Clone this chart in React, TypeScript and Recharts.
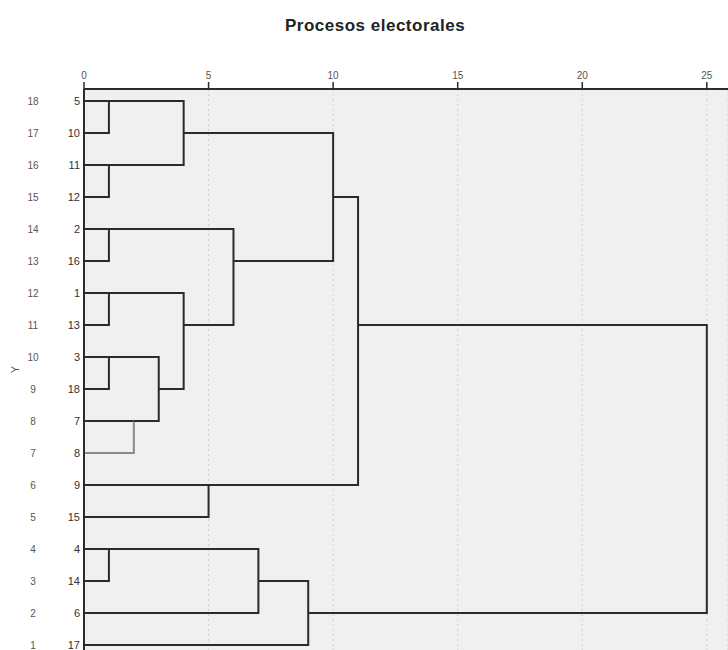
import React from 'react';
import { ComposedChart, Line, XAxis, YAxis, CartesianGrid } from 'recharts';

// Leaf labels for rows 1 (bottom) .. 18 (top)
const leafLabels = ['17', '6', '14', '4', '15', '9', '8', '7', '18', '3', '13', '1', '16', '2', '12', '11', '10', '5'];
const rowTicks = [1, 2, 3, 4, 5, 6, 7, 8, 9, 10, 11, 12, 13, 14, 15, 16, 17, 18];
const xTicks = [0, 5, 10, 15, 20, 25];

// Each merge: upper child (row, height) joined with lower child (row, height) at distance h
const mergeUpperRow = [18, 16, 18, 14, 12, 10, 8, 10, 12, 14, 17, 6, 15, 4, 4, 3, 11];
const mergeUpperH = [0, 0, 1, 0, 0, 0, 0, 1, 1, 1, 4, 0, 10, 0, 1, 7, 11];
const mergeLowerRow = [17, 15, 16, 13, 11, 9, 7, 8, 9, 11, 13, 5, 6, 3, 2, 1, 2];
const mergeLowerH = [0, 0, 1, 0, 0, 0, 0, 2, 3, 4, 6, 0, 5, 0, 0, 0, 9];
const mergeHeight = [1, 1, 4, 1, 1, 1, 2, 3, 4, 6, 10, 5, 11, 1, 7, 9, 25];

const DARK = '#2b2b2b';
const GREY = '#8a8a8a';
const FONT = 'Liberation Sans, Arial, sans-serif';

const RowTick = (props: any) => {
  const { x, y, payload } = props;
  const row = payload.value as number;
  return (
    <g>
      <text x={x - 49} y={y} dy={4} textAnchor="middle" fontSize={10} fill="#555" fontFamily={FONT}>
        {row}
      </text>
      <text x={x - 2} y={y} dy={4} textAnchor="end" fontSize={11} fill="#333" fontFamily={FONT}>
        {leafLabels[row - 1]}
      </text>
    </g>
  );
};

const YLabel = (props: any) => {
  const { viewBox } = props;
  const cy = viewBox.y + viewBox.height / 2;
  const cx = viewBox.x + 15;
  return (
    <text x={cx} y={cy} transform={`rotate(-90 ${cx} ${cy})`} textAnchor="middle" dy={4} fontSize={11} fill="#555" fontFamily={FONT}>
      Y
    </text>
  );
};

export default function App() {
  const lines: React.ReactNode[] = [];
  mergeHeight.forEach((h, i) => {
    const a = mergeUpperRow[i];
    const b = mergeLowerRow[i];
    const ah = mergeUpperH[i];
    const bh = mergeLowerH[i];
    if (h === 2) {
      lines.push(
        <Line key={`m${i}a`} data={[{ x: ah, y: a }, { x: h, y: a }]} dataKey="y" stroke={DARK} strokeWidth={2}
          dot={false} activeDot={false} isAnimationActive={false} type="linear" />
      );
      lines.push(
        <Line key={`m${i}b`} data={[{ x: h, y: a }, { x: h, y: b }, { x: bh, y: b }]} dataKey="y" stroke={GREY} strokeWidth={2}
          dot={false} activeDot={false} isAnimationActive={false} type="linear" />
      );
    } else {
      lines.push(
        <Line key={`m${i}`} data={[{ x: ah, y: a }, { x: h, y: a }, { x: h, y: b }, { x: bh, y: b }]} dataKey="y"
          stroke={DARK} strokeWidth={2} dot={false} activeDot={false} isAnimationActive={false} type="linear" />
      );
    }
  });

  return (
    <div style={{ position: 'absolute', left: 0, top: 0, width: 728, height: 650, overflow: 'hidden', background: '#fff' }}>
      <div style={{ position: 'absolute', left: 285, top: 16, whiteSpace: 'nowrap', fontFamily: FONT, fontSize: 17, fontWeight: 'bold', letterSpacing: 0.5, color: '#222', lineHeight: '20px' }}>
        Procesos electorales
      </div>
      <ComposedChart width={728} height={650} margin={{ top: 59, right: 0, bottom: 0, left: 0 }}>
        <CartesianGrid fill="#f0f0f0" horizontal={false} vertical={true} stroke="#cfcfcf" strokeDasharray="2 3" />
        <XAxis xAxisId={0} type="number" dataKey="x" orientation="top" domain={[0, 25.85]} allowDataOverflow ticks={xTicks}
          height={30} tickSize={7} tickMargin={3} axisLine={{ stroke: DARK, strokeWidth: 2 }} tickLine={{ stroke: DARK, strokeWidth: 1.5 }}
          tick={{ fontSize: 10, fill: '#555', fontFamily: FONT }} interval={0} />
        <YAxis yAxisId={0} type="number" domain={[0.84, 18.375]} allowDataOverflow ticks={rowTicks} width={84}
          axisLine={{ stroke: DARK, strokeWidth: 2 }} tickLine={false} tickSize={0} tick={<RowTick />} interval={0}
          label={<YLabel />} />
        {lines}
      </ComposedChart>
    </div>
  );
}
